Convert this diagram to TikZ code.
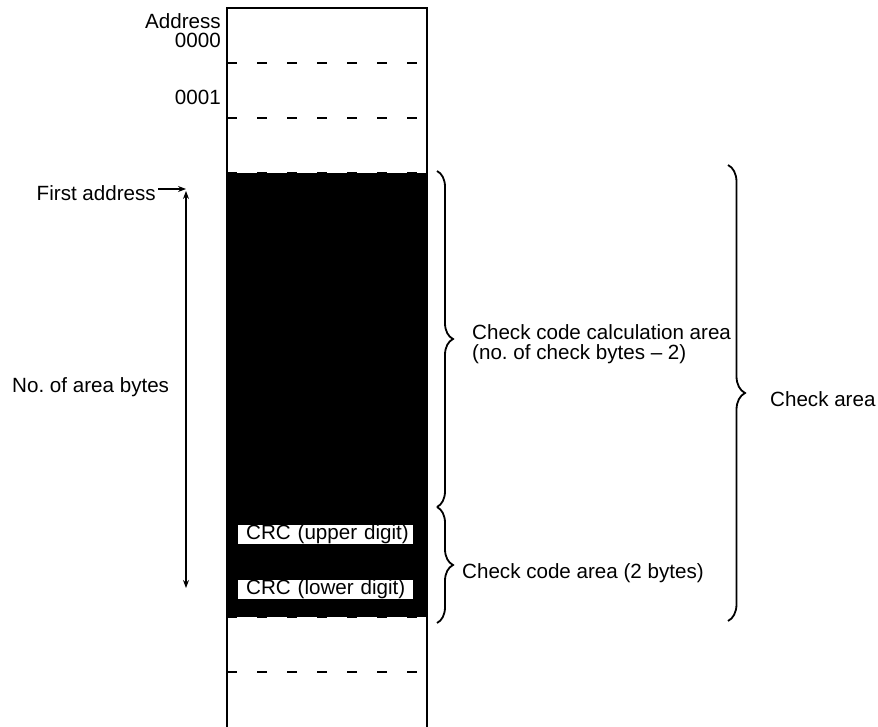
\documentclass[tikz,border=0pt]{standalone}
\usepackage{fontspec}
\setmainfont{Liberation Sans}
\usetikzlibrary{arrows.meta,decorations.pathreplacing}
\begin{document}
\begin{tikzpicture}[x=1pt,y=-1pt,
  lbl/.style={font=\fontsize{20.6}{20.5}\selectfont, inner sep=0pt},
  border/.style={line width=1.9pt},
  slot/.style={line width=1.9pt, dash pattern=on 10pt off 20pt},
  brc/.style={decorate, decoration={brace, amplitude=16pt}, line width=1.8pt},
  arr/.style={line width=1.1pt, -{Stealth[length=8pt,width=6pt]}},
  crc/.style={lbl, fill=white, minimum height=19pt, text width=175pt, inner xsep=0pt, align=left, anchor=west}
]
\useasboundingbox (0,0) rectangle (878,727);
% memory column
\fill[black] (227,173) rectangle (427,617);
\draw[border] (227,732) -- (227,8) -- (427,8) -- (427,732);
\foreach \y in {63,118,173,617,672} \draw[slot] (227,\y) -- (427,\y);
% CRC cells
\node[crc] (crcu) at (238,534.5) {\hspace*{8pt}CRC (upper digit)};
\node[crc] (crcl) at (238,589.5) {\hspace*{8pt}CRC (lower digit)};
% address labels
\node[lbl, anchor=east] (addr) at (221,21) {Address};
\node[lbl, anchor=east] (a0) at (221,40) {0000};
\node[lbl, anchor=east] (a1) at (221,97) {0001};
% left side
\node[lbl, anchor=east] (first) at (156,193) {First address};
\node[lbl, anchor=west] (nbytes) at (12,387) {No.\ of area bytes};
\coordinate (corner) at (186,189);
\coordinate (top) at (186,191);
\coordinate (bot) at (186,588);
\draw[arr, shorten <=2pt] (first.east |- corner) -- (corner);
\draw[line width=1.1pt, {Stealth[length=8pt,width=6pt]}-{Stealth[length=8pt,width=6pt]}] (top) -- (bot);
% braces
\coordinate (b1a) at (437,171);
\coordinate (b1b) at (437,507);
\coordinate (b2b) at (437,623);
\coordinate (b3a) at (728,165);
\coordinate (b3b) at (728,621);
\draw[brc] (b1a) -- (b1b);
\draw[brc] (b1b) -- (b2b);
\draw[brc, decoration={brace, amplitude=17pt}] (b3a) -- (b3b);
% right labels
\node[lbl, anchor=west, align=left] (calc) at (472,344) {Check code calculation area\\(no.\ of check bytes – 2)};
\node[lbl, anchor=west] (ccarea) at (462,573) {Check code area (2 bytes)};
\node[lbl, anchor=west] (chk) at (770,399) {Check area};
\end{tikzpicture}
\end{document}
